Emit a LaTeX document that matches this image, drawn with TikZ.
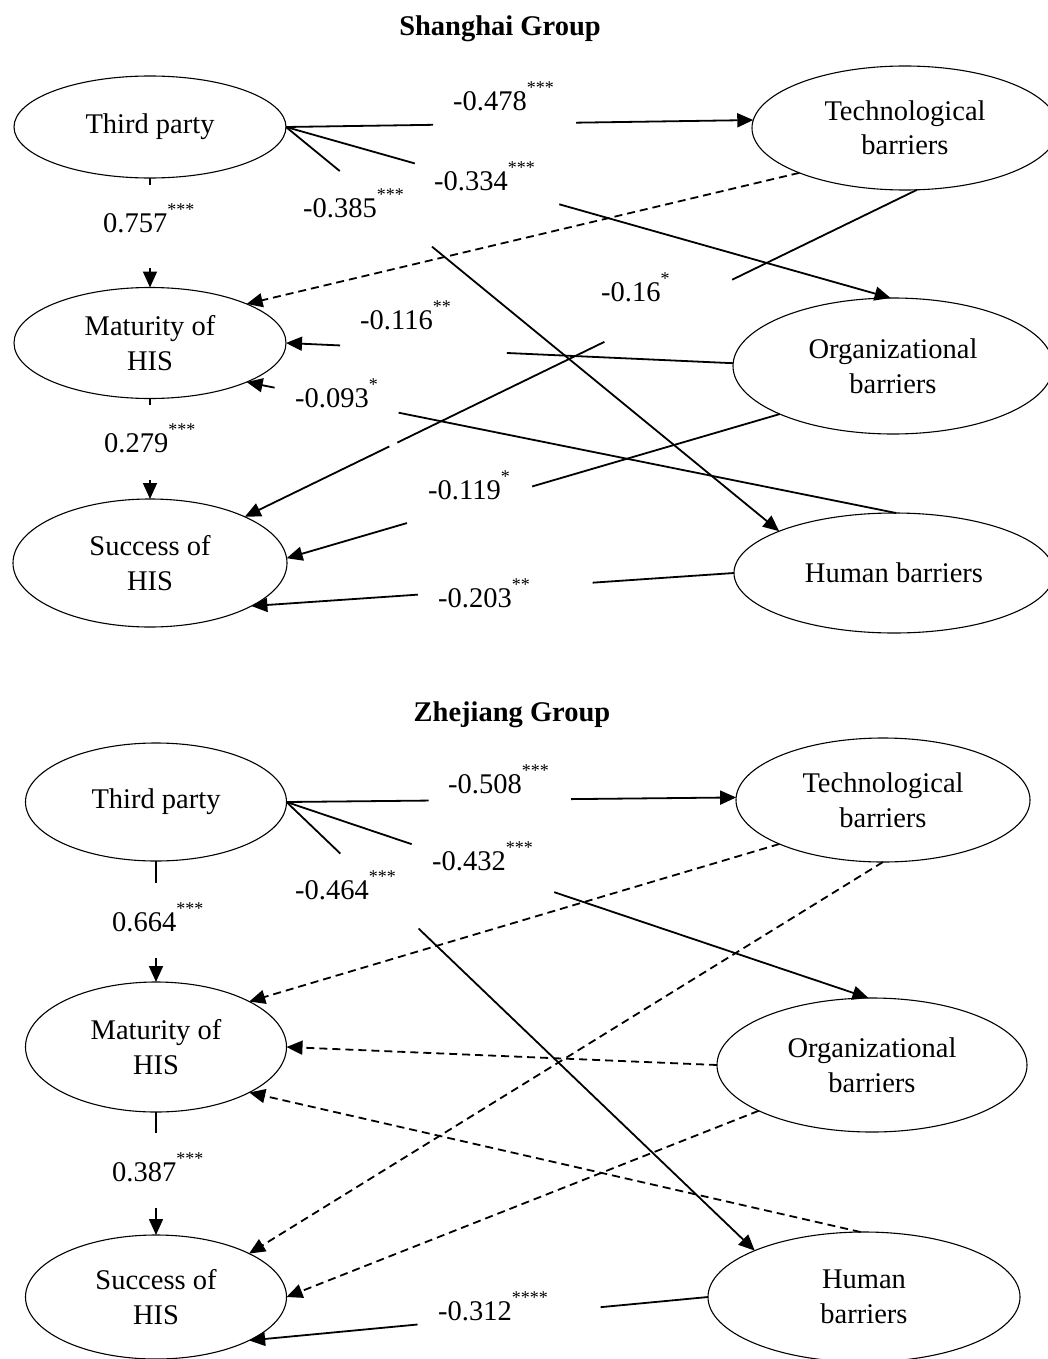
\documentclass[tikz,border=0pt]{standalone}
\usepackage{fontspec}
\setmainfont{Liberation Serif}
\usetikzlibrary{arrows.meta,calc,shapes.geometric}
% significance stars set small and raised
\newcommand{\sig}[1]{\raisebox{17pt}{\fontsize{18}{18}\selectfont #1}}
% a connector interrupted between fractions #4 and #5 of its length
\newcommand{\brokenlink}[5][]{\draw[conn,#1] (#2) -- ($(#2)!#4!(#3)$) ($(#2)!#5!(#3)$) -- (#3);}

\begin{document}
\begin{tikzpicture}[x=1pt,y=-1pt,
  ell/.style={ellipse,draw,line width=1.1pt,inner sep=0pt,outer sep=0pt,align=center,
    font=\fontsize{28.5}{34.5}\selectfont},
  conn/.style={line width=1.8pt,-{Triangle[length=16pt,width=14pt]}},
  dconn/.style={conn,dash pattern=on 8pt off 5pt},
  lab/.style={anchor=base west,inner sep=0pt,font=\fontsize{28.5}{34}\selectfont},
  ttl/.style={anchor=base,inner sep=0pt,font=\fontsize{28.5}{34}\selectfont\bfseries}]
\useasboundingbox (0,0) rectangle (1048,1359);
\clip (0,0) rectangle (1048,1359);

% ---------------- Shanghai group ----------------
\node[ttl] (titleA) at (500,36) {Shanghai Group};

\node[ell,minimum width=272pt,minimum height=102pt] (tpA)  at (150,127) {Third party};
\node[ell,minimum width=272pt,minimum height=111pt] (matA) at (150,343) {Maturity of\\HIS};
\node[ell,minimum width=274pt,minimum height=128pt] (sucA) at (150,563) {Success of\\HIS};
\node[ell,minimum width=306pt,minimum height=124pt] (tecA) at (905,128) {Technological\\barriers};
\node[ell,minimum width=320pt,minimum height=136pt] (orgA) at (893,366) {Organizational\\barriers};
\node[ell,minimum width=320pt,minimum height=120pt] (humA) at (894,573) {Human barriers};

\brokenlink{tpA.east}{tecA.177}{0.315}{0.621}
\brokenlink{tpA.east}{orgA.92}{0.213}{0.452}
\brokenlink{tpA.east}{humA.160}{0.109}{0.296}
\draw[dconn] (tecA.203) -- (matA.22);
\draw[conn] (tecA.281) -- ($(tecA.281)!0.275!(sucA.26)$)
  ($(tecA.281)!0.465!(sucA.26)$) -- ($(tecA.281)!0.773!(sucA.26)$)
  ($(tecA.281)!0.785!(sucA.26)$) -- (sucA.26);
\brokenlink{orgA.179}{matA.east}{0.506}{0.879}
\brokenlink{orgA.203}{sucA.2}{0.502}{0.756}
\brokenlink{humA.88}{matA.338}{0.766}{0.957}
\brokenlink{humA.west}{sucA.337}{0.293}{0.655}
\brokenlink{tpA.south}{matA.north}{0.064}{0.826}
\brokenlink{matA.south}{sucA.north}{0.06}{0.81}

\node[lab] (a757) at (103,232) {0.757\sig{***}};
\node[lab] (a385) at (303,217) {-0.385\sig{***}};
\node[lab] (a478) at (453,111) {-0.478\sig{***}};
\node[lab] (a334) at (434,190) {-0.334\sig{***}};
\node[lab] (a116) at (360,329) {-0.116\sig{**}};
\node[lab] (a16)  at (601,301) {-0.16\sig{*}};
\node[lab] (a093) at (295,407) {-0.093\sig{*}};
\node[lab] (a279) at (104,452) {0.279\sig{***}};
\node[lab] (a119) at (428,499) {-0.119\sig{*}};
\node[lab] (a203) at (438,607) {-0.203\sig{**}};

% ---------------- Zhejiang group ----------------
\node[ttl] (titleB) at (512,721) {Zhejiang Group};

\node[ell,minimum width=261pt,minimum height=118pt] (tpB)  at (156,802) {Third party};
\node[ell,minimum width=261pt,minimum height=130pt] (matB) at (156,1047) {Maturity of\\HIS};
\node[ell,minimum width=261pt,minimum height=124pt] (sucB) at (156,1297) {Success of\\HIS};
\node[ell,minimum width=294pt,minimum height=124pt] (tecB) at (883,800) {Technological\\barriers};
\node[ell,minimum width=310pt,minimum height=134pt] (orgB) at (872,1065) {Organizational\\barriers};
\node[ell,minimum width=312pt,minimum height=130pt] (humB) at (864,1297) {Human\\barriers};

\brokenlink{tpB.east}{tecB.179}{0.316}{0.633}
\brokenlink{tpB.east}{orgB.93}{0.215}{0.46}
\brokenlink{tpB.east}{humB.157}{0.115}{0.282}
\draw[dconn] (tecB.203) -- (matB.26);
\draw[dconn] (tecB.south) -- (sucB.25);
\draw[dconn] (orgB.west) -- (matB.east);
\draw[dconn] (orgB.202) -- (sucB.east);
\draw[dconn] (humB.93) -- (matB.334);
\brokenlink{humB.west}{sucB.335}{0.234}{0.633}
\brokenlink{tpB.south}{matB.north}{0.182}{0.804}
\brokenlink{matB.south}{sucB.north}{0.171}{0.78}

\node[lab] (b508) at (448,793) {-0.508\sig{***}};
\node[lab] (b432) at (432,870) {-0.432\sig{***}};
\node[lab] (b464) at (295,899) {-0.464\sig{***}};
\node[lab] (b664) at (112,931) {0.664\sig{***}};
\node[lab] (b387) at (112,1181) {0.387\sig{***}};
\node[lab] (b312) at (438,1320) {-0.312\sig{****}};
\end{tikzpicture}
\end{document}
